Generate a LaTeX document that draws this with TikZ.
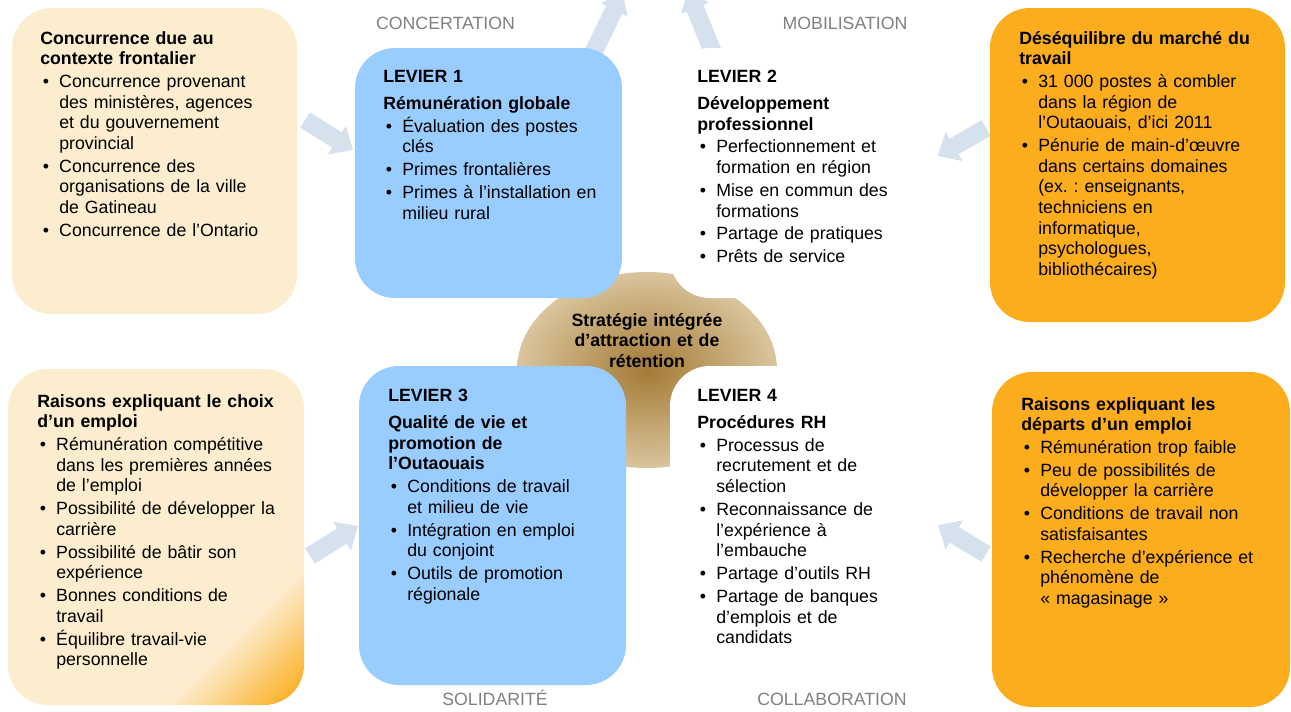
\documentclass[tikz,border=0pt]{standalone}
\usepackage{fontspec}
\setmainfont{Liberation Sans}
\usetikzlibrary{shadings}
\frenchspacing
\definecolor{cream}{HTML}{FDEDCF}
\definecolor{blu}{HTML}{99CCFF}
\definecolor{org}{HTML}{FBAD1E}
\definecolor{arr}{HTML}{D5E2EE}
\definecolor{lbl}{HTML}{808080}
\definecolor{tanL}{HTML}{DAC59E}
\definecolor{tanD}{HTML}{A47A35}
\pgfdeclarehorizontalshading{cornerfade}{100bp}{color(0bp)=(cream); color(70bp)=(cream); color(84bp)=(org); color(100bp)=(org)}
\newcommand\fs{\fontsize{13.3}{15.5}\selectfont\setlength\parskip{1.6pt}\frenchspacing}
\newcommand\bu{\par\hangindent=14.25pt\hangafter=1\noindent\hbox to 14.25pt{\hskip2pt\textbullet\hfil}}
\newcommand\lev{\par\vspace{3.5pt}}
\newcommand\barrow[7]{%
  \begin{scope}[shift={(#1,#2)},rotate=#3]
    \fill[arr] (0,-#6) -- (#4,-#6) -- (#4,-#7) -- ({#4+#5},0) -- (#4,#7) -- (#4,#6) -- (0,#6) -- cycle;
  \end{scope}}
\begin{document}
\begin{tikzpicture}[x=0.75pt,y=-0.75pt,
  rbox/.style={rounded corners=30pt},
  txt/.style={anchor=base west, inner sep=0pt, align=left, text width=260pt, font=\fs},
  ctr/.style={anchor=base, inner sep=0pt, align=center, text width=200pt, font=\fs},
  lab/.style={anchor=base, inner sep=0pt, font=\fs, text=lbl}]
\useasboundingbox (0,0) rectangle (1291,711);
\fill[white] (0,0) rectangle (1291,711);
% block arrows
\barrow{588.7}{62}{64}{58}{19}{9}{15}
\barrow{716.8}{62}{112}{58}{19}{9}{15}
\barrow{305}{120}{-32}{37.6}{19}{9}{17}
\barrow{986}{128}{210}{36.8}{19}{9}{17}
\barrow{310}{556}{32}{37.6}{19}{9}{17}
\barrow{986}{554}{149}{37}{19}{9}{17}
% centre
\shade[inner color=tanD, outer color=tanL] (647,370) ellipse [x radius=130, y radius=98];
% lever boxes
\fill[blu, rbox] (355,48) rectangle (622,298);
\fill[white, rbox] (670,48) rectangle (930,298);
\fill[blu, rbox] (359,366) rectangle (626,685);
\fill[white, rbox] (670,366) rectangle (930,685);
% outer boxes
\fill[cream, rbox] (12,8) rectangle (297,314);
\path[rbox, shading=cornerfade, shading angle=-45] (8,369) rectangle (304,705);
\fill[org, rbox] (990,8) rectangle (1285,322);
\fill[org, rbox] (992,372) rectangle (1290,707);
% labels
\node[lab] (concert) at (445.5,29) {CONCERTATION};
\node[lab] (mobil) at (845,29) {MOBILISATION};
\node[lab] (solid) at (495,705) {SOLIDARITÉ};
\node[lab] (collab) at (832,705) {COLLABORATION};
% centre text
\node[ctr] (strat) at (647,326) {\fs\bfseries Stratégie intégrée\\ d’attraction et de\\ rétention};
% texts
\node[txt] (tl) at (40,44) {\fs\noindent\textbf{Concurrence due au\newline contexte frontalier}
\bu Concurrence provenant\newline des ministères, agences\newline et du gouvernement\newline provincial
\bu Concurrence des\newline organisations de la ville\newline de Gatineau
\bu Concurrence de l’Ontario\par};
\node[txt] (l1) at (383,82) {\fs\noindent\textbf{LEVIER 1}\lev\noindent\textbf{Rémunération globale}
\bu Évaluation des postes\newline clés
\bu Primes frontalières
\bu Primes à l’installation en\newline milieu rural\par};
\node[txt] (l2) at (697,82) {\fs\noindent\textbf{LEVIER 2}\lev\noindent\textbf{Développement\newline professionnel}
\bu Perfectionnement et\newline formation en région
\bu Mise en commun des\newline formations
\bu Partage de pratiques
\bu Prêts de service\par};
\node[txt] (tr) at (1019,44) {\fs\noindent\textbf{Déséquilibre du marché du\newline travail}
\bu 31~000 postes à combler\newline dans la région de\newline l’Outaouais, d’ici 2011
\bu Pénurie de main-d’œuvre\newline dans certains domaines\newline (ex.~: enseignants,\newline techniciens en\newline informatique,\newline psychologues,\newline bibliothécaires)\par};
\node[txt] (bl) at (37,407) {\fs\noindent\textbf{Raisons expliquant le choix\newline d’un emploi}
\bu Rémunération compétitive\newline dans les premières années\newline de l’emploi
\bu Possibilité de développer la\newline carrière
\bu Possibilité de bâtir son\newline expérience
\bu Bonnes conditions de\newline travail
\bu Équilibre travail-vie\newline personnelle\par};
\node[txt] (l3) at (388,401) {\fs\noindent\textbf{LEVIER 3}\lev\noindent\textbf{Qualité de vie et\newline promotion de\newline l’Outaouais}
\bu Conditions de travail\newline et milieu de vie
\bu Intégration en emploi\newline du conjoint
\bu Outils de promotion\newline régionale\par};
\node[txt] (l4) at (697,401) {\fs\noindent\textbf{LEVIER 4}\lev\noindent\textbf{Procédures RH}
\bu Processus de\newline recrutement et de\newline sélection
\bu Reconnaissance de\newline l’expérience à\newline l’embauche
\bu Partage d’outils RH
\bu Partage de banques\newline d’emplois et de\newline candidats\par};
\node[txt] (br) at (1021,410) {\fs\noindent\textbf{Raisons expliquant les\newline départs d’un emploi}
\bu Rémunération trop faible
\bu Peu de possibilités de\newline développer la carrière
\bu Conditions de travail non\newline satisfaisantes
\bu Recherche d’expérience et\newline phénomène de\newline «~magasinage~»\par};
\end{tikzpicture}
\end{document}
